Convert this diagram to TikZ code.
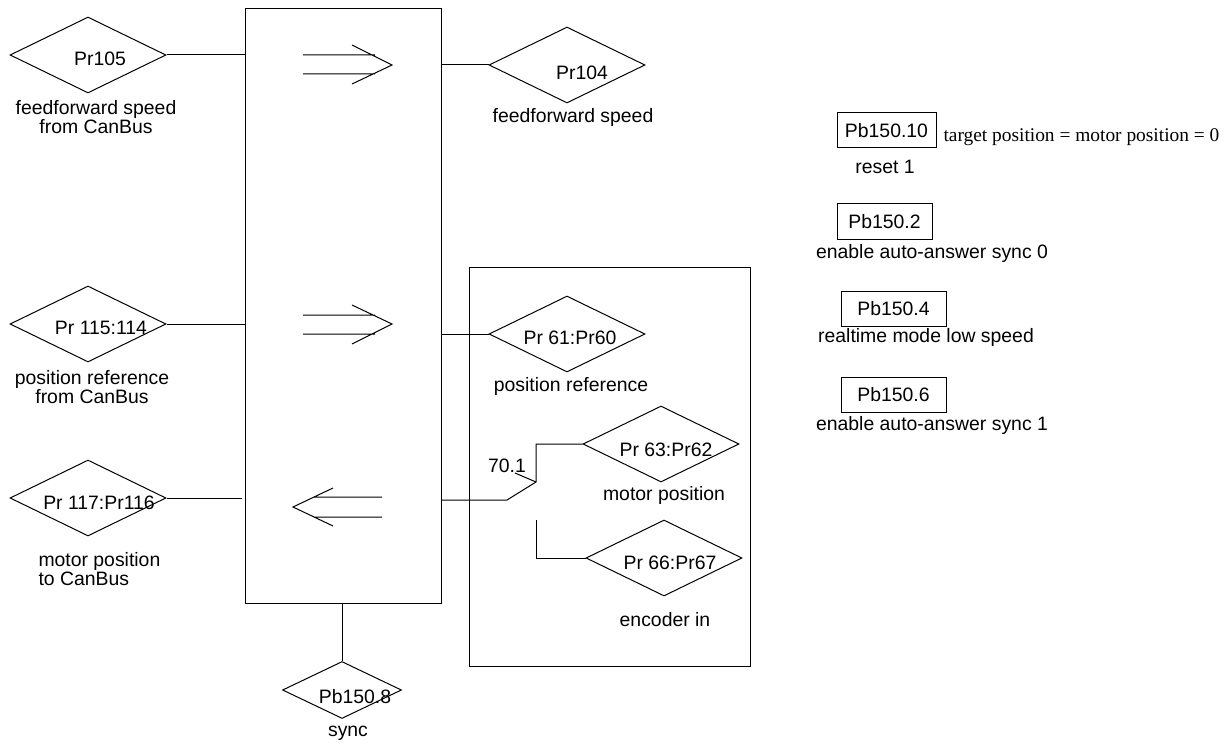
\documentclass[tikz,border=0pt]{standalone}
\usepackage{fontspec}
\setmainfont{Liberation Sans}
\newfontfamily\seriffont{Liberation Serif}
\usetikzlibrary{shapes.geometric}
\begin{document}
\begin{tikzpicture}[x=1pt,y=-1pt, line width=1pt,
 dia/.style={draw, diamond, inner sep=0pt, minimum width=156pt, minimum height=76pt},
 txt/.style={inner sep=0pt, font=\fontsize{19.4}{19}\selectfont, align=center},
 pbox/.style={draw, minimum height=35pt, inner sep=0pt, font=\fontsize{19.4}{19}\selectfont}]
\useasboundingbox (0,0) rectangle (1231,746);
% main block
\node[draw, minimum width=196pt, minimum height=595pt, inner sep=0pt, anchor=north west] (box) at (245,8) {};
% inner block
\node[draw, minimum width=281pt, minimum height=399pt, inner sep=0pt, anchor=north west] (ibox) at (469,267) {};
% diamonds
\node[dia] (d105) at (88,55) {};
\node[dia] (d104) at (567,65) {};
\node[dia] (d115) at (88,324) {};
\node[dia] (d117) at (88,498) {};
\node[dia] (d61) at (567,334) {};
\node[dia] (d63) at (661,444) {};
\node[dia] (d66) at (664,558) {};
\node[dia, minimum width=119pt, minimum height=57pt] (d150) at (342,690) {};
% diamond texts
\node[txt] (t105) at (100,59) {Pr105};
\node[txt] (t104) at (582,73) {Pr104};
\node[txt] (t115) at (101,328) {Pr 115:114};
\node[txt] (t117) at (99,503) {Pr 117:Pr116};
\node[txt] (t61) at (570,338) {Pr 61:Pr60};
\node[txt] (t63) at (666,450) {Pr 63:Pr62};
\node[txt] (t66) at (670,563) {Pr 66:Pr67};
\node[txt] (t150) at (355,697) {Pb150.8};
% labels
\node[txt] (l105) at (96,117) {feedforward speed\\from CanBus};
\node[txt] (l104) at (573,117) {feedforward speed};
\node[txt] (l115) at (92,387) {position reference\\from CanBus};
\node[txt, align=left, anchor=west] (l117) at (38,569) {motor position\\to CanBus};
\node[txt] (l61) at (571,386) {position reference};
\node[txt] (l63) at (664,495) {motor position};
\node[txt] (l66) at (665,620) {encoder in};
\node[txt] (lsync) at (348,733) {sync};
\node[txt] (l701) at (507,466) {70.1};
% right side boxes
\node[pbox, minimum width=99pt] (b10) at (886.5,130.5) {Pb150.10};
\node[txt, anchor=west, font=\seriffont\fontsize{19.4}{19}\selectfont] (tgt) at (943,137) {target position = motor position = 0};
\node[txt] (lr1) at (885,167) {reset 1};
\node[pbox, minimum width=95pt] (b2) at (884.5,221.5) {Pb150.2};
\node[txt] (lb2) at (932,253) {enable auto-answer sync 0};
\node[pbox, minimum width=105pt] (b4) at (893.5,308.5) {Pb150.4};
\node[txt] (lb4) at (926,337) {realtime mode low speed};
\node[pbox, minimum width=105pt] (b6) at (893.5,394.5) {Pb150.6};
\node[txt] (lb6) at (932,425) {enable auto-answer sync 1};
% connectors
\draw (d105.east) -- (d105.east -| box.west);
\draw (d115.east) -- (d115.east -| box.west);
\draw (d117.east) -- ([xshift=-3pt]d117.east -| box.west);
\draw (box.east |- d104.west) -- (d104.west);
\draw (box.east |- d61.west) -- (d61.west);
\draw (box.south -| d150.north) -- (d150.north);
% switch
\coordinate (swA) at (507,500);
\coordinate (swB) at (536,482);
\coordinate (swC) at (536,520);
\coordinate (lead) at (515,473);
\draw (box.east |- swA) -- (swA) -- (swB) -- (swB |- d63.west) -- (d63.west);
\draw (swC) -- (swC |- d66.west) -- (d66.west);
\draw (lead) -- (swB);
% double arrows inside main block
\draw (303,55) -- (375,55) (303,74) -- (375,74) (352,45) -- (392,65) -- (352,84);
\draw (303,315) -- (375,315) (303,334) -- (375,334) (352,305) -- (392,324) -- (352,344);
\draw (314,497) -- (382,497) (314,517) -- (382,517) (333,488) -- (293,507) -- (333,526);
\end{tikzpicture}
\end{document}
